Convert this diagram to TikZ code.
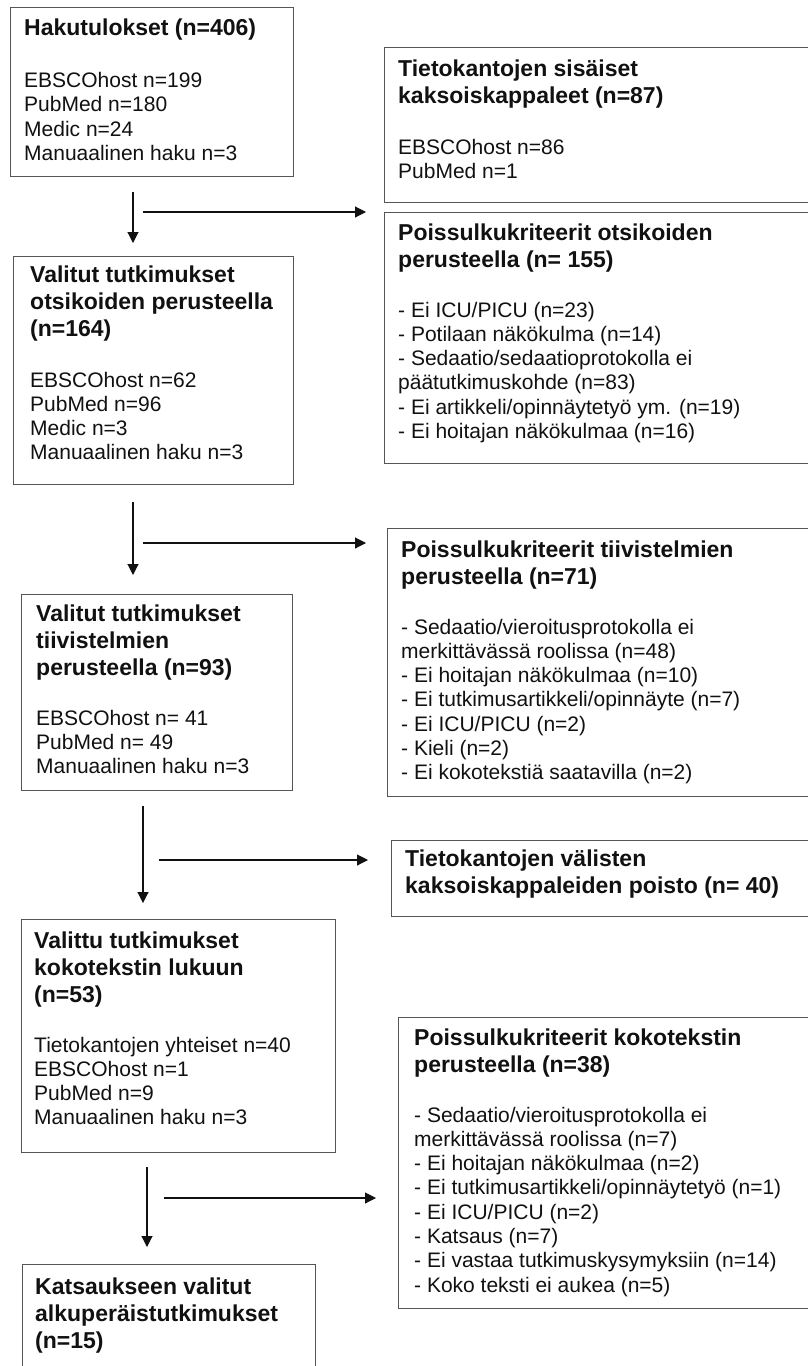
\documentclass[tikz,border=0pt]{standalone}
\usepackage{fontspec}
\setmainfont{Liberation Sans}
\usetikzlibrary{arrows.meta}
\definecolor{boxgray}{HTML}{555555}
\definecolor{ink}{HTML}{111111}
\newcommand\mlines[1]{\vtop{\def\NL{\egroup\hbox\bgroup}\hbox{#1}}}
\begin{document}
\begin{tikzpicture}[x=1pt,y=-1pt,
  box/.style={draw=boxgray, line width=1.2pt, rectangle, inner sep=0pt, anchor=north west},
  ttl/.style={font=\fontsize{23}{27}\selectfont\bfseries, anchor=base west, inner sep=0pt, text=ink},
  bdy/.style={font=\fontsize{21}{24.3}\selectfont, anchor=base west, inner sep=0pt, text=ink},
  arr/.style={draw=ink, line width=1.1pt, -{Triangle[length=11pt,width=11pt]}}]
\useasboundingbox[fill=white] (0,0) rectangle (808,1366);

% boxes
\node[box, minimum width=283pt, minimum height=169pt] (b1) at (10,7) {};
\node[box, minimum width=446pt, minimum height=155pt] (b2) at (384,47) {};
\node[box, minimum width=446pt, minimum height=251pt] (b3) at (384,212) {};
\node[box, minimum width=280pt, minimum height=228pt] (b4) at (13,256) {};
\node[box, minimum width=443pt, minimum height=268pt] (b5) at (387,528) {};
\node[box, minimum width=271pt, minimum height=196pt] (b6) at (21,594) {};
\node[box, minimum width=439pt, minimum height=76pt] (b7) at (391,840) {};
\node[box, minimum width=314pt, minimum height=233pt] (b8) at (21,919) {};
\node[box, minimum width=432pt, minimum height=291pt] (b9) at (398,1017) {};
\node[box, minimum width=293pt, minimum height=150pt] (b10) at (22,1264) {};

% texts
\node[ttl] (t1) at (24,35.5) {\mlines{Hakutulokset (n=406)}};
\node[bdy] (d1) at (24,87.5) {\mlines{EBSCOhost n=199\NL PubMed n=180\NL Medic n=24\NL Manuaalinen haku n=3}};

\node[ttl] (t2) at (398,76) {\mlines{Tietokantojen sisäiset\NL kaksoiskappaleet (n=87)}};
\node[bdy] (d2) at (398,154) {\mlines{EBSCOhost n=86\NL PubMed n=1}};

\node[ttl] (t3) at (398,240) {\mlines{Poissulkukriteerit otsikoiden\NL perusteella (n= 155)}};
\node[bdy] (d3) at (398,317) {\mlines{- Ei ICU/PICU (n=23)\NL - Potilaan näkökulma (n=14)\NL - Sedaatio/sedaatioprotokolla ei\NL päätutkimuskohde (n=83)\NL - Ei artikkeli/opinnäytetyö ym. (n=19)\NL - Ei hoitajan näkökulmaa (n=16)}};

\node[ttl] (t4) at (30,282) {\mlines{Valitut tutkimukset\NL otsikoiden perusteella\NL (n=164)}};
\node[bdy] (d4) at (30,387) {\mlines{EBSCOhost n=62\NL PubMed n=96\NL Medic n=3\NL Manuaalinen haku n=3}};

\node[ttl] (t5) at (401,557) {\mlines{Poissulkukriteerit tiivistelmien\NL perusteella (n=71)}};
\node[bdy] (d5) at (401,634) {\mlines{- Sedaatio/vieroitusprotokolla ei\NL merkittävässä roolissa (n=48)\NL - Ei hoitajan näkökulmaa (n=10)\NL - Ei tutkimusartikkeli/opinnäyte (n=7)\NL - Ei ICU/PICU (n=2)\NL - Kieli (n=2)\NL - Ei kokotekstiä saatavilla (n=2)}};

\node[ttl] (t6) at (36,621) {\mlines{Valitut tutkimukset\NL tiivistelmien\NL perusteella (n=93)}};
\node[bdy] (d6) at (36,725) {\mlines{EBSCOhost n= 41\NL PubMed n= 49\NL Manuaalinen haku n=3}};

\node[ttl] (t7) at (405,866) {\mlines{Tietokantojen välisten\NL kaksoiskappaleiden poisto (n= 40)}};

\node[ttl] (t8) at (34,948) {\mlines{Valittu tutkimukset\NL kokotekstin lukuun\NL (n=53)}};
\node[bdy] (d8) at (34,1052) {\mlines{Tietokantojen yhteiset n=40\NL EBSCOhost n=1\NL PubMed n=9\NL Manuaalinen haku n=3}};

\node[ttl] (t9) at (414,1045) {\mlines{Poissulkukriteerit kokotekstin\NL perusteella (n=38)}};
\node[bdy] (d9) at (414,1122) {\mlines{- Sedaatio/vieroitusprotokolla ei\NL merkittävässä roolissa (n=7)\NL - Ei hoitajan näkökulmaa (n=2)\NL - Ei tutkimusartikkeli/opinnäytetyö (n=1)\NL - Ei ICU/PICU (n=2)\NL - Katsaus (n=7)\NL - Ei vastaa tutkimuskysymyksiin (n=14)\NL - Koko teksti ei aukea (n=5)}};

\node[ttl] (t10) at (35,1294) {\mlines{Katsaukseen valitut\NL alkuperäistutkimukset\NL (n=15)}};

% connectors
\coordinate (a1s) at (133,192); \coordinate (a1e) at (133,243);
\coordinate (h1s) at (143,212); \coordinate (h1e) at (366,212);
\coordinate (a2s) at (133,502); \coordinate (a2e) at (133,575);
\coordinate (h2s) at (143,543); \coordinate (h2e) at (366,543);
\coordinate (a3s) at (143,806); \coordinate (a3e) at (143,903);
\coordinate (h3s) at (159,860); \coordinate (h3e) at (368,860);
\coordinate (a4s) at (147,1167); \coordinate (a4e) at (147,1247);
\coordinate (h4s) at (164,1198); \coordinate (h4e) at (376,1198);
\draw[arr] (a1s) -- (a1e);
\draw[arr] (h1s) -- (h1e);
\draw[arr] (a2s) -- (a2e);
\draw[arr] (h2s) -- (h2e);
\draw[arr] (a3s) -- (a3e);
\draw[arr] (h3s) -- (h3e);
\draw[arr] (a4s) -- (a4e);
\draw[arr] (h4s) -- (h4e);
\end{tikzpicture}
\end{document}
